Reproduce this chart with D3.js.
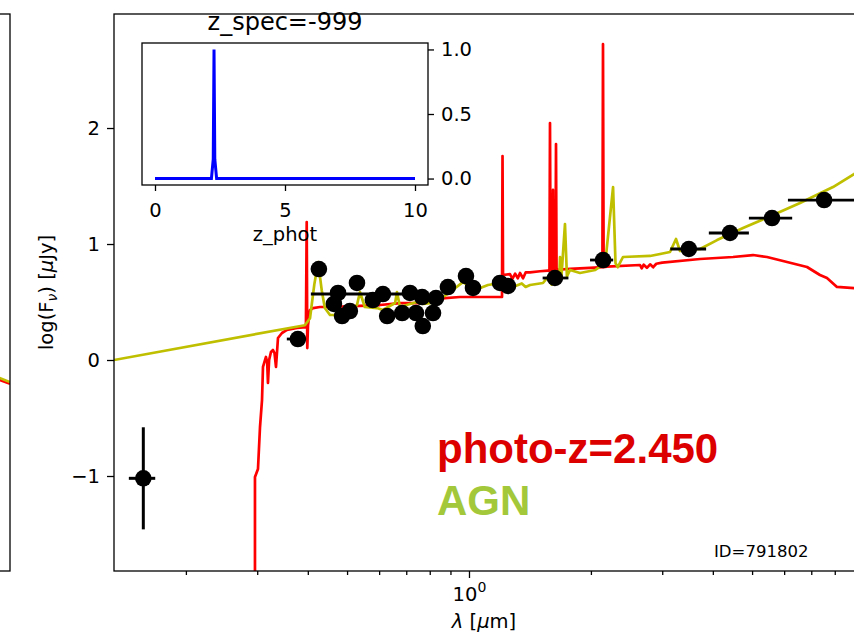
<!DOCTYPE html>
<html>
<head>
<meta charset="utf-8">
<script src="https://cdn.jsdelivr.net/npm/d3@7"></script>
<style>
body { margin: 0; background: #fff; }
svg { display: block; font-family: "DejaVu Sans", sans-serif; }
</style>
</head>
<body>
<div id="chart"></div>
<script>
// photometry (wavelength in micron, log flux in uJy)
var obsLam = [0.378, 0.426, 0.475, 0.464, 0.486, 0.508, 0.529, 0.579, 0.613, 0.628,
  0.684, 0.715, 0.740, 0.766, 0.769, 0.815, 0.829, 0.887, 0.983, 1.023,
  1.193, 1.248, 1.630, 2.143, 3.49, 4.41, 5.60, 7.53];
var obsLogF = [0.181, 0.784, 0.578, 0.483, 0.379, 0.422, 0.664, 0.517, 0.569, 0.379,
  0.405, 0.578, 0.405, 0.543, 0.293, 0.405, 0.534, 0.629, 0.724, 0.621,
  0.664, 0.638, 0.707, 0.862, 0.957, 1.095, 1.224, 1.379];
// filter widths: [index, lambda min, lambda max]
var obsXerr = [[0, 0.355, 0.396], [8, 0.407, 0.792], [22, 1.52, 1.76], [23, 1.99, 2.27],
  [24, 3.14, 3.85], [25, 3.91, 4.91], [26, 4.91, 6.28], [27, 6.13, 9.8]];

// typical error marker
var errLam = 0.157, errLogF = -1.02, errDy = 0.44, errLamLo = 0.1446, errLamHi = 0.168;

// galaxy template at the photo-z
var galSed = [
  [0.2962, -2.0], [0.2962, -1.009], [0.3013, -0.940], [0.3048, -0.578], [0.3083, -0.345],
  [0.3100, -0.060], [0.3153, 0.026], [0.3175, -0.02], [0.3189, -0.198], [0.3210, 0.00],
  [0.3244, 0.069], [0.3281, 0.086], [0.3310, 0.06], [0.3338, -0.060], [0.3376, 0.190],
  [0.3453, 0.233], [0.3553, 0.259], [0.3760, 0.276], [0.3957, 0.284], [0.3975, 1.190],
  [0.3988, 0.103], [0.4004, 0.30], [0.4050, 0.431], [0.4120, 0.448], [0.4286, 0.457],
  [0.4537, 0.457], [0.5381, 0.466], [0.6029, 0.474], [0.6755, 0.491], [0.7568, 0.491],
  [0.8480, 0.520], [0.8724, 0.534], [0.9501, 0.543], [1.2065, 0.543], [1.2100, 1.759],
  [1.2135, 0.733], [1.2624, 0.740], [1.2800, 0.700], [1.3000, 0.745], [1.3200, 0.705],
  [1.3364, 0.750], [1.3600, 0.705], [1.3800, 0.755], [1.4147, 0.755], [1.4976, 0.765],
  [1.5668, 0.770], [1.5800, 0.770], [1.5849, 2.043], [1.5900, 0.775], [1.6080, 0.775],
  [1.6122, 1.466], [1.6160, 0.775], [1.6350, 0.778], [1.6400, 1.862], [1.6450, 0.778],
  [1.7762, 0.785], [1.9893, 0.795], [2.1350, 0.800], [2.1422, 2.724], [2.1500, 0.800],
  [2.1900, 0.805], [2.6443, 0.819], [2.6700, 0.790], [2.7000, 0.822], [2.7500, 0.795],
  [2.8000, 0.825], [2.8500, 0.800], [2.9000, 0.830], [3.0000, 0.840], [3.7192, 0.871],
  [4.4861, 0.888], [5.0259, 0.905], [5.4425, 0.888], [6.0985, 0.845], [6.8327, 0.802],
  [7.3552, 0.733], [7.6541, 0.707], [8.1012, 0.630], [8.9236, 0.620], [9.774, 0.600]
];

// AGN template
var agnSed = [
  [0.12, -0.02], [0.1329, 0.0], [0.3934, 0.300], [0.4050, 0.360], [0.4150, 0.650],
  [0.4240, 0.845], [0.4330, 0.600], [0.4407, 0.448], [0.4537, 0.388], [0.4805, 0.388],
  [0.508, 0.431], [0.529, 0.474], [0.538, 0.586], [0.553, 0.457], [0.593, 0.448],
  [0.613, 0.431], [0.631, 0.457], [0.657, 0.491], [0.664, 0.586], [0.6755, 0.457],
  [0.715, 0.483], [0.744, 0.500], [0.770, 0.483], [0.801, 0.491], [0.863, 0.543],
  [0.898, 0.586], [0.966, 0.672], [1.035, 0.603], [1.114, 0.647], [1.193, 0.664],
  [1.284, 0.629], [1.350, 0.660], [1.380, 0.630], [1.415, 0.647], [1.523, 0.664],
  [1.567, 0.716], [1.600, 0.650], [1.670, 0.700], [1.678, 0.888], [1.690, 0.700],
  [1.7258, 1.172], [1.745, 0.720], [1.7762, 0.776], [1.8793, 0.750], [2.050, 0.776],
  [2.170, 0.836], [2.2684, 1.491], [2.300, 0.836], [2.330, 0.800], [2.400, 0.888],
  [2.799, 0.897], [3.1355, 0.931], [3.2442, 1.043], [3.3190, 0.940], [3.7192, 0.957],
  [4.0973, 1.034], [4.7487, 1.138], [5.6312, 1.250], [6.5667, 1.353], [7.9196, 1.491],
  [8.9236, 1.603], [9.774, 1.700]
];

// redshift probability
var pdfZ = [0, 2.17, 2.24, 2.27, 2.30, 2.37, 10];
var pdfP = [0, 0, 0.15, 1.0, 0.15, 0, 0];

// the neighbouring panel, only its right edge is in view
var leftSedGal = [[8.5, -0.125], [10, -0.205]];
var leftSedAgn = [[8.5, -0.10], [10, -0.19]];

var yTicks = [-1, 0, 1, 2];
var xMajor = [1];
var xMinor = [0.2, 0.3, 0.4, 0.5, 0.6, 0.7, 0.8, 0.9, 2, 3, 4, 5, 6, 7, 8, 9];
var insetXTicks = [0, 5, 10];
var insetYTicks = [0, 0.5, 1.0];

var W = 854, H = 636;
var axL = 114, axT = 14, axR = 858, axB = 571;

var svg = d3.select("#chart").append("svg")
  .attr("width", W).attr("height", H);

var x = d3.scaleLog().domain([0.1329, 9.13]).range([axL, axR]);
var y = d3.scaleLinear().domain([-1.819, 2.983]).range([axB, axT]);

function styleAxis(g, fs) {
  g.attr("font-family", "DejaVu Sans, sans-serif").attr("font-size", fs || 19.5);
  g.select(".domain").remove();
  g.selectAll(".tick line").attr("stroke", "#000").attr("stroke-width", 1.3);
  g.selectAll(".tick text").attr("fill", "#000");
}

// left neighbour panel
var lx = d3.scaleLog().domain([0.1, 10]).range([-730, 10]);
svg.append("clipPath").attr("id", "clipL")
  .append("rect").attr("x", -730).attr("y", axT).attr("width", 740).attr("height", axB - axT);
var lline = d3.line().x(function(d){ return lx(d[0]); }).y(function(d){ return y(d[1]); });
svg.append("path").datum(leftSedGal).attr("clip-path", "url(#clipL)")
  .attr("d", lline).attr("fill", "none").attr("stroke", "#ff0000").attr("stroke-width", 2.6);
svg.append("path").datum(leftSedAgn).attr("clip-path", "url(#clipL)")
  .attr("d", lline).attr("fill", "none").attr("stroke", "#bfbf00").attr("stroke-width", 2.6);
svg.append("rect").attr("x", -730).attr("y", axT).attr("width", 740).attr("height", axB - axT)
  .attr("fill", "none").attr("stroke", "#000").attr("stroke-width", 1.3);

// main panel
svg.append("clipPath").attr("id", "clipM")
  .append("rect").attr("x", axL).attr("y", axT).attr("width", axR - axL).attr("height", axB - axT);

var line = d3.line().x(function(d){ return x(d[0]); }).y(function(d){ return y(d[1]); });
var plot = svg.append("g").attr("clip-path", "url(#clipM)");

plot.append("path").datum(galSed).attr("d", line)
  .attr("fill", "none").attr("stroke", "#ff0000").attr("stroke-width", 2.7)
  .attr("stroke-linejoin", "round");
plot.append("path").datum(agnSed).attr("d", line)
  .attr("fill", "none").attr("stroke", "#bfbf00").attr("stroke-width", 2.7)
  .attr("stroke-linejoin", "round");

// x error bars
plot.selectAll(".xerr").data(obsXerr).enter().append("line")
  .attr("x1", function(d){ return x(d[1]); })
  .attr("x2", function(d){ return x(d[2]); })
  .attr("y1", function(d){ return y(obsLogF[d[0]]); })
  .attr("y2", function(d){ return y(obsLogF[d[0]]); })
  .attr("stroke", "#000").attr("stroke-width", 2.8);

plot.selectAll(".obs").data(obsLam).enter().append("circle")
  .attr("cx", function(d){ return x(d); })
  .attr("cy", function(d, i){ return y(obsLogF[i]); })
  .attr("r", 8.3).attr("fill", "#000");

// typical error
plot.append("line").attr("x1", x(errLam)).attr("x2", x(errLam))
  .attr("y1", y(errLogF + errDy)).attr("y2", y(errLogF - errDy))
  .attr("stroke", "#000").attr("stroke-width", 3);
plot.append("line").attr("x1", x(errLamLo)).attr("x2", x(errLamHi))
  .attr("y1", y(errLogF)).attr("y2", y(errLogF))
  .attr("stroke", "#000").attr("stroke-width", 3);
plot.append("circle").attr("cx", x(errLam)).attr("cy", y(errLogF)).attr("r", 8.3).attr("fill", "#000");

// frame
svg.append("rect").attr("x", axL).attr("y", axT).attr("width", axR - axL).attr("height", axB - axT)
  .attr("fill", "none").attr("stroke", "#000").attr("stroke-width", 1.3);

// axes
svg.append("g").attr("transform", "translate(" + axL + ",0)")
  .call(d3.axisLeft(y).tickValues(yTicks).tickSize(7).tickPadding(7)
    .tickFormat(function(d){ return d < 0 ? "\u2212" + Math.abs(d) : d; }))
  .call(styleAxis);

svg.append("g").attr("transform", "translate(0," + axB + ")")
  .call(d3.axisBottom(x).tickValues(xMinor).tickSize(4).tickFormat(""))
  .call(styleAxis);

var gx = svg.append("g").attr("transform", "translate(0," + axB + ")")
  .call(d3.axisBottom(x).tickValues(xMajor).tickSize(7).tickPadding(9).tickFormat(""))
  .call(styleAxis);
gx.selectAll(".tick text").each(function(d) {
  var t = d3.select(this);
  t.append("tspan").text("10");
  t.append("tspan").attr("font-size", 14).attr("dy", "-0.6em")
    .text(Math.round(Math.log10(d)));
});

// axis labels
var xl = svg.append("text").attr("x", (axL + 854) / 2).attr("y", 628)
  .attr("text-anchor", "middle").attr("font-size", 19.5);
xl.append("tspan").attr("font-style", "italic").text("\u03bb");
xl.append("tspan").text(" [");
xl.append("tspan").attr("font-style", "italic").text("\u03bc");
xl.append("tspan").text("m]");

var yl = svg.append("text")
  .attr("transform", "translate(53," + (axT + axB) / 2 + ") rotate(-90)")
  .attr("text-anchor", "middle").attr("font-size", 19.5);
yl.append("tspan").text("log(F");
yl.append("tspan").attr("font-style", "italic").attr("font-size", 14).attr("dy", 4).text("\u03bd");
yl.append("tspan").attr("dy", -4).text(") [");
yl.append("tspan").attr("font-style", "italic").text("\u03bc");
yl.append("tspan").text("Jy]");

// annotations
svg.append("text").attr("x", 437).attr("y", 463)
  .attr("font-family", "Liberation Sans, Arial, sans-serif").attr("font-weight", "bold")
  .attr("font-size", 42).attr("fill", "#dd0000").text("photo-z=2.450");
svg.append("text").attr("x", 437).attr("y", 515)
  .attr("font-family", "Liberation Sans, Arial, sans-serif").attr("font-weight", "bold")
  .attr("font-size", 42).attr("fill", "#a3c83a").text("AGN");
svg.append("text").attr("x", 714).attr("y", 557)
  .attr("font-size", 16.5).attr("fill", "#000").text("ID=791802");

// inset with the redshift pdf
var inL = 142, inR = 428, inT = 43, inB = 185;
var ix = d3.scaleLinear().domain([-0.5, 10.5]).range([inL, inR]);
var iy = d3.scaleLinear().domain([-0.05, 1.05]).range([inB, inT]);

svg.append("rect").attr("x", inL).attr("y", inT).attr("width", inR - inL).attr("height", inB - inT)
  .attr("fill", "#fff");
svg.append("path").datum(pdfZ)
  .attr("d", d3.line().x(function(d){ return ix(d); }).y(function(d, i){ return iy(pdfP[i]); }))
  .attr("fill", "none").attr("stroke", "#0000ff").attr("stroke-width", 3);
svg.append("rect").attr("x", inL).attr("y", inT).attr("width", inR - inL).attr("height", inB - inT)
  .attr("fill", "none").attr("stroke", "#000").attr("stroke-width", 1.3);

svg.append("g").attr("transform", "translate(0," + inB + ")")
  .call(d3.axisBottom(ix).tickValues(insetXTicks).tickSize(6).tickPadding(12))
  .call(styleAxis);
svg.append("g").attr("transform", "translate(" + inR + ",0)")
  .call(d3.axisRight(iy).tickValues(insetYTicks).tickSize(6).tickPadding(7).tickFormat(d3.format(".1f")))
  .call(styleAxis);

svg.append("text").attr("x", (inL + inR) / 2).attr("y", 30)
  .attr("text-anchor", "middle").attr("font-size", 24).text("z_spec=-999");
svg.append("text").attr("x", (inL + inR) / 2).attr("y", 241)
  .attr("text-anchor", "middle").attr("font-size", 19.5).text("z_phot");
</script>
</body>
</html>
